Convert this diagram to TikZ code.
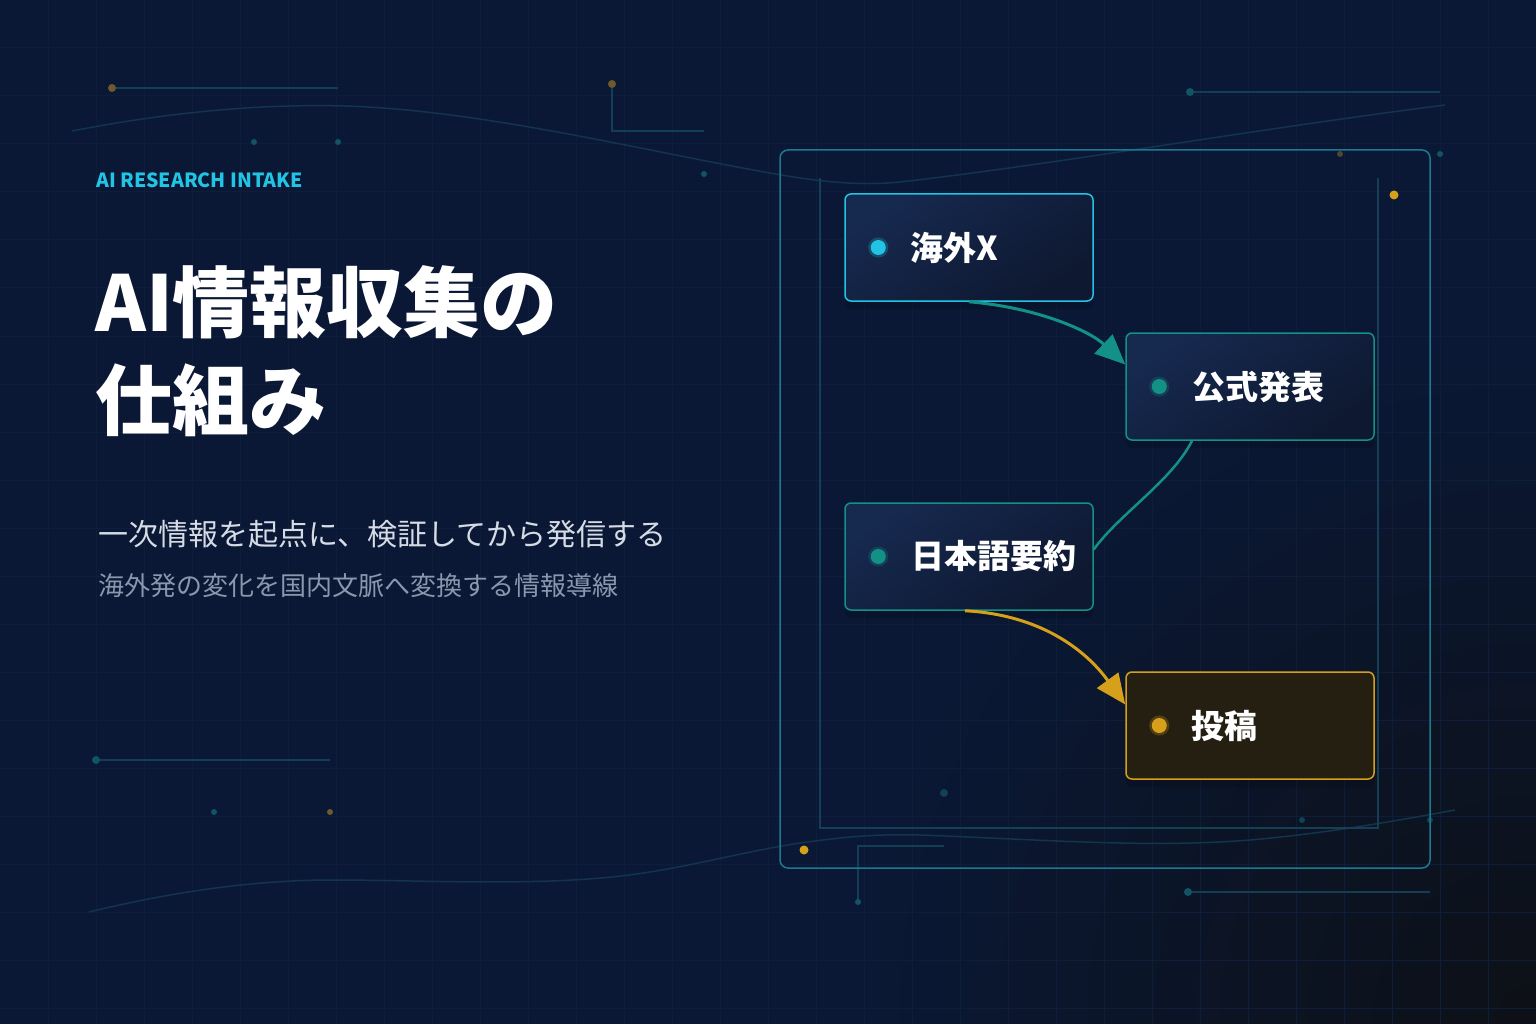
\documentclass[tikz,border=0pt]{standalone}
\usepackage{fontspec}
\setmainfont{Noto Sans CJK JP}
\usetikzlibrary{arrows.meta,positioning,shadows}

\definecolor{bgnavy}{HTML}{0A1835}
\definecolor{bgdark}{HTML}{0D1016}
\definecolor{gridc}{HTML}{0D1D3A}
\definecolor{wavec}{HTML}{12344D}
\definecolor{decoteal}{HTML}{123F55}
\definecolor{dotteal}{HTML}{115463}
\definecolor{dotgold}{HTML}{6E5A2A}
\definecolor{framec}{HTML}{1B7A90}
\definecolor{innerc}{HTML}{143F55}
\definecolor{cyanc}{HTML}{22C4E4}
\definecolor{tealc}{HTML}{139186}
\definecolor{goldc}{HTML}{D6A01A}
\definecolor{boxtop}{HTML}{16294F}
\definecolor{boxbot}{HTML}{0E1830}
\definecolor{goldfill}{HTML}{251F11}
\definecolor{subone}{HTML}{D6DCE6}
\definecolor{subtwo}{HTML}{8A98AE}

\tikzset{
	flow box/.style={
		draw=#1,
		rounded corners=6pt,
		line width=1.5pt,
		minimum width=248pt,
		minimum height=107pt,
		inner sep=0pt,
		drop shadow={shadow xshift=0pt, shadow yshift=-8pt, opacity=.15, fill=black}
	},
	blue fill/.style={top color=boxtop, bottom color=boxbot, shading angle=35},
	flow dot/.style={
		circle,
		inner sep=0pt,
		minimum size=15pt,
		fill=#1,
		draw=#1,
		draw opacity=.25,
		line width=5pt
	},
	box label/.style={anchor=west, inner sep=0pt, text=white, font=\fontsize{33}{38}\selectfont\bfseries},
	flow arrow/.style={draw=#1, line width=3pt, -{Triangle[length=30pt,width=26pt]}}
}

\begin{document}
\begin{tikzpicture}[
	x=1pt, y=-1pt,
	deco/.style={decoteal, line width=1.5pt}
]

\useasboundingbox (0,0) rectangle (1536,1024);

% background
\fill[bgnavy] (0,0) rectangle (1536,1024);
\begin{scope}
	\clip (0,0) rectangle (1536,1024);
	\shade[inner color=bgdark, outer color=bgnavy] (1536,1024) circle (680pt);
	\foreach \gx in {48,96,...,1488}
		\draw[gridc, line width=1pt] (\gx,0) -- (\gx,1024);
	\foreach \gy in {48,96,...,1008}
		\draw[gridc, line width=1pt] (0,\gy) -- (1536,\gy);
\end{scope}

% waves
\draw[wavec, line width=1.5pt] (72,131) .. controls (180,110) and (270,104) .. (345,106)
	.. controls (480,110) and (640,150) .. (770,173)
	.. controls (820,182) and (860,186) .. (900,182)
	.. controls (1050,165) and (1250,130) .. (1445,105);
\draw[wavec, line width=1.5pt] (89,912) .. controls (180,890) and (260,880) .. (332,880)
	.. controls (420,880) and (520,886) .. (612,877)
	.. controls (680,870) and (740,852) .. (800,843)
	.. controls (850,836) and (880,834) .. (920,835)
	.. controls (1050,840) and (1150,848) .. (1250,840)
	.. controls (1330,833) and (1400,820) .. (1455,810);

% decorations
\draw[deco] (112,88) -- (338,88);
\fill[dotgold] (112,88) circle (4pt);
\fill[dotteal] (254,142) circle (3pt);
\fill[dotteal] (338,142) circle (3pt);
\draw[deco] (612,84) -- (612,131) -- (704,131);
\fill[dotgold] (612,84) circle (4pt);
\fill[dotteal] (704,174) circle (3pt);
\draw[deco] (1190,92) -- (1440,92);
\fill[dotteal] (1190,92) circle (4pt);
\fill[dotgold!70!bgnavy] (1340,154) circle (3pt);
\fill[dotteal] (1440,154) circle (3pt);
\draw[deco] (96,760) -- (330,760);
\fill[dotteal] (96,760) circle (4pt);
\fill[dotteal] (214,812) circle (3pt);
\fill[dotgold] (330,812) circle (3pt);
\draw[deco] (858,902) -- (858,846) -- (944,846);
\fill[dotteal] (858,902) circle (3pt);
\draw[deco] (1188,892) -- (1430,892);
\fill[dotteal] (1188,892) circle (4pt);
\fill[dotteal!70!bgnavy] (944,793) circle (4pt);
\fill[dotteal!70!bgnavy] (1302,820) circle (3pt);
\fill[dotteal!70!bgnavy] (1430,820) circle (3pt);

% frame
\draw[framec, line width=1.5pt, rounded corners=8pt] (780,150) rectangle (1430,868);
\draw[innerc, line width=1.5pt] (820,178) -- (820,828) -- (1378,828) -- (1378,178);
\fill[goldc] (1394,195) circle (4.5pt);
\fill[goldc] (804,850) circle (4.5pt);

% left texts
\node[anchor=base west, inner sep=0pt, text=cyanc, font=\fontsize{19.5}{23}\selectfont\bfseries] (kicker) at (96,188) {AI RESEARCH INTAKE};
\node[anchor=base west, inner sep=0pt, text=white, font=\fontsize{77}{92}\selectfont\bfseries] (titleone) at (95,331) {AI情報収集の};
\node[anchor=base west, inner sep=0pt, text=white, font=\fontsize{77}{92}\selectfont\bfseries] (titletwo) at (95,429) {仕組み};
\node[anchor=base west, inner sep=0pt, text=subone, font=\fontsize{30}{36}\selectfont] (subfirst) at (98,545) {一次情報を起点に、検証してから発信する};
\node[anchor=base west, inner sep=0pt, text=subtwo, font=\fontsize{26}{30}\selectfont] (subsecond) at (98,595) {海外発の変化を国内文脈へ変換する情報導線};

% flow
\node[flow box=cyanc, blue fill] (kaigai) at (969,247.5) {};
\node[flow box=tealc, blue fill] (koushiki) at (1250,386.5) {};
\node[flow box=tealc, blue fill] (nihongo) at (969,556.5) {};
\node[flow box=goldc, fill=goldfill] (toukou) at (1250,725.5) {};

\node[flow dot=cyanc] (kaigaidot) at ([xshift=34pt]kaigai.west) {};
\node[flow dot=tealc] (koushikidot) at ([xshift=34pt]koushiki.west) {};
\node[flow dot=tealc] (nihongodot) at ([xshift=34pt]nihongo.west) {};
\node[flow dot=goldc] (toukoudot) at ([xshift=34pt]toukou.west) {};

\node[box label] (kaigaitext) at ([xshift=66pt]kaigai.west) {海外X};
\node[box label] (koushikitext) at ([xshift=67pt]koushiki.west) {公式発表};
\node[box label] (nihongotext) at ([xshift=67pt]nihongo.west) {日本語要約};
\node[box label] (toukoutext) at ([xshift=66pt]toukou.west) {投稿};

\draw[flow arrow=tealc] (kaigai.south) .. controls +(70,6) and +(-35,-33) .. ([yshift=22pt]koushiki.west);
\draw[tealc, line width=2.5pt] ([xshift=-58pt]koushiki.south) .. controls +(-20,40) and +(25,-35) .. ([yshift=7pt]nihongo.east);
\draw[flow arrow=goldc] ([xshift=-4pt]nihongo.south) .. controls +(75,4) and +(-40,-55) .. ([yshift=21pt]toukou.west);

\end{tikzpicture}
\end{document}
